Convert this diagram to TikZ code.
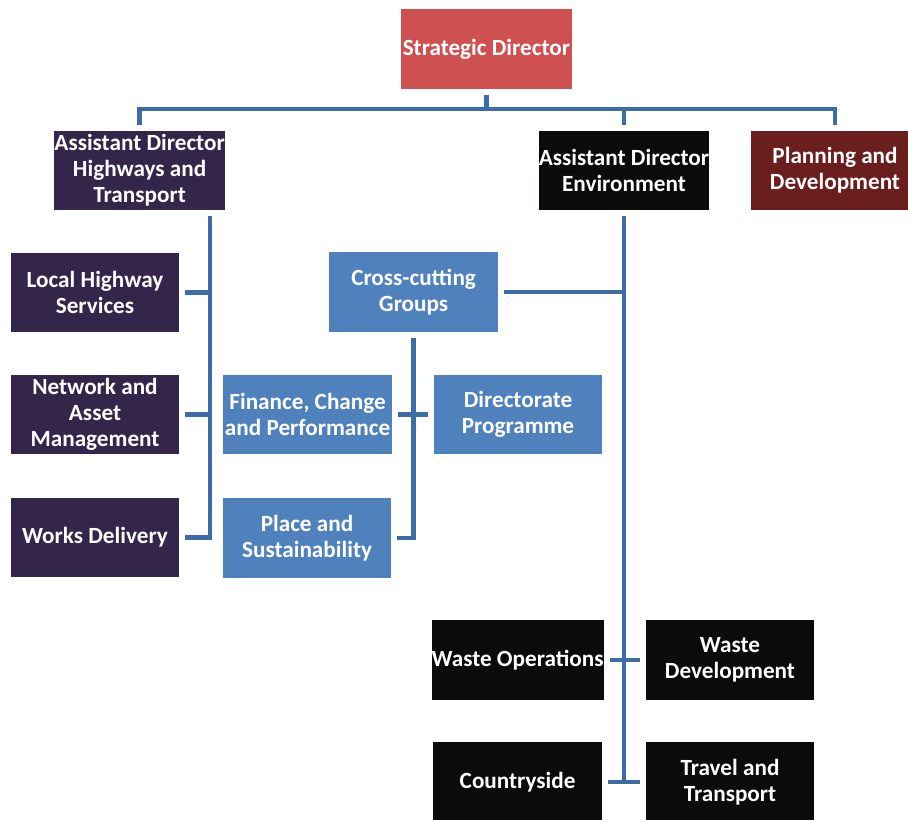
\documentclass[tikz,border=0pt]{standalone}
\usepackage{fontspec}
\setmainfont{Carlito}
\usepackage{tikz}
\usetikzlibrary{calc}

\definecolor{sdred}{RGB}{206,80,80}
\definecolor{hwpurple}{RGB}{52,37,74}
\definecolor{pdred}{RGB}{106,30,30}
\definecolor{cgblue}{RGB}{79,129,189}
\definecolor{envblack}{RGB}{12,10,10}
\definecolor{linkblue}{RGB}{62,108,168}

\begin{document}
\begin{tikzpicture}[
	unit/.style={rectangle, minimum width=4.22cm, minimum height=1.98cm, inner sep=0pt, outer sep=0.15cm, align=center, text=white, font=\fontsize{16.5}{18.5}\selectfont\bfseries},
	link/.style={draw=linkblue, line width=0.11cm}
	]
	\useasboundingbox (0,0) rectangle (22.7,-20.475);
	\clip (0,0) rectangle (22.7,-20.475);

	% top level
	\node[unit,fill=sdred,minimum width=4.28cm]  (SD) at (12.16,-1.225) {Strategic Director};
	\node[unit,fill=hwpurple] (ADH) at (3.49,-4.26) {Assistant Director\\Highways and\\Transport};
	\node[unit,fill=envblack] (ADE) at (15.6,-4.26) {Assistant Director\\Environment};
	\node[unit,fill=pdred]    (PD)  at (20.875,-4.26) {Planning and\\Development};

	\draw[link] (SD.south) -- ++(0,-0.36) coordinate (bus);
	\draw[link] (ADH.north) |- (bus) -| (PD.north);
	\draw[link] (bus -| ADE.north) -- (ADE.north);

	% highways
	\node[unit,fill=hwpurple] (LHS)  at (2.375,-7.31) {Local Highway\\Services};
	\node[unit,fill=hwpurple] (NAM)  at (2.375,-10.36) {Network and\\Asset\\Management};
	\node[unit,fill=hwpurple] (WDel) at (2.375,-13.44) {Works Delivery};

	\coordinate (hwy) at (5.25,-13.44);
	\draw[link] (ADH.south -| hwy) |- (WDel.east);
	\draw[link] (LHS.east) -- (LHS.east -| hwy);
	\draw[link] (NAM.east) -- (NAM.east -| hwy);

	% cross-cutting groups
	\node[unit,fill=cgblue] (CCG) at (10.34,-7.3) {Cross-cutting\\Groups};
	\node[unit,fill=cgblue] (FCP) at (7.69,-10.36) {Finance, Change\\and Performance};
	\node[unit,fill=cgblue] (DP)  at (12.95,-10.36) {Directorate\\Programme};
	\node[unit,fill=cgblue] (PS)  at (7.675,-13.45) {Place and\\Sustainability};

	\draw[link] (CCG.south) |- (PS.east);
	\draw[link] (FCP.east) -- (DP.west);

	% environment
	\node[unit,fill=envblack] (WO)   at (12.94,-16.5) {Waste Operations};
	\node[unit,fill=envblack] (WDev) at (18.25,-16.5) {Waste\\Development};
	\node[unit,fill=envblack] (CS)   at (12.94,-19.55) {Countryside};
	\node[unit,fill=envblack] (TT)   at (18.25,-19.55) {Travel and\\Transport};

	\draw[link] (ADE.south) -- (ADE.south |- CS.east);
	\draw[link] (CCG.east) -- (CCG.east -| ADE.south);
	\draw[link] (WO.east) -- (WDev.west);
	\draw[link] (CS.east) -- (TT.west);
\end{tikzpicture}
\end{document}
